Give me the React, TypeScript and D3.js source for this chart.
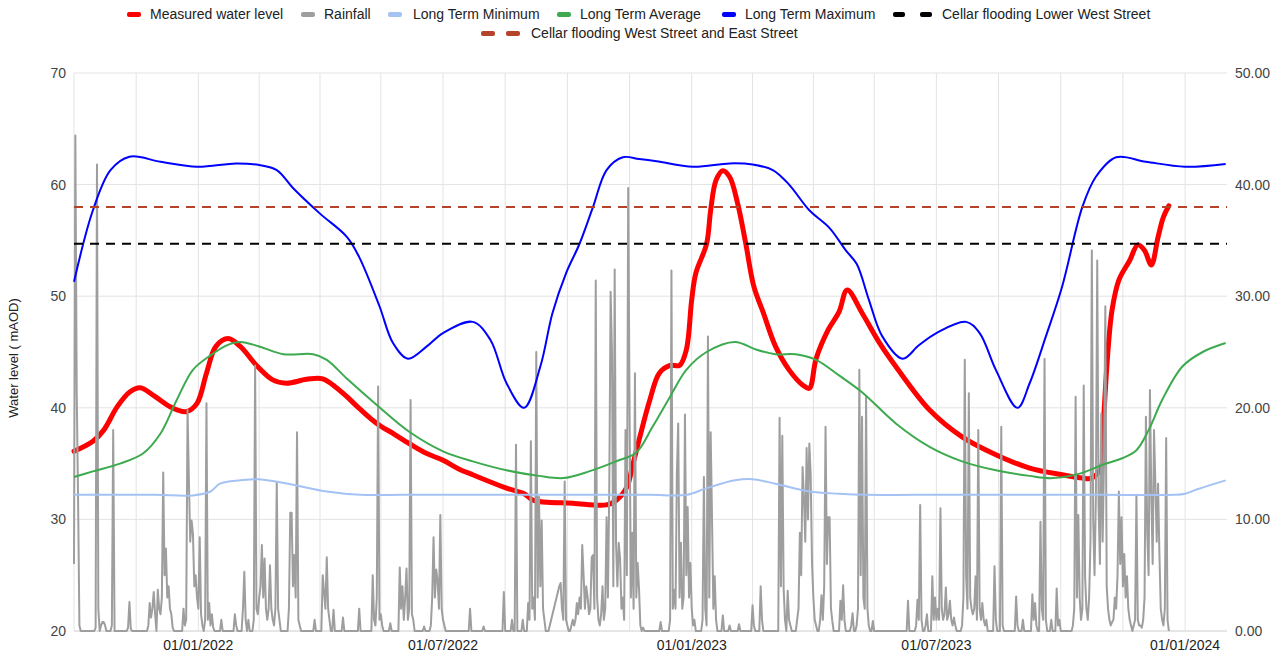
import React from 'react'
import * as d3 from 'd3'

// ---- data ----

// Measured water level (mAOD)
const levelDates = [
  '2021-10-01', '2021-10-15', '2021-10-23', '2021-11-02', '2021-11-11', '2021-11-19', '2021-11-29',
  '2021-12-11', '2021-12-23', '2021-12-31', '2022-01-07', '2022-01-14', '2022-01-23', '2022-02-01',
  '2022-02-13', '2022-02-25', '2022-03-07', '2022-03-22', '2022-04-03', '2022-04-18', '2022-04-30',
  '2022-05-13', '2022-05-25', '2022-06-06', '2022-06-19', '2022-07-01', '2022-07-13', '2022-07-23',
  '2022-08-17', '2022-08-30', '2022-09-06', '2022-10-05', '2022-10-30', '2022-11-06', '2022-11-14',
  '2022-11-18', '2022-11-23', '2022-12-01', '2022-12-08', '2022-12-16', '2022-12-23', '2022-12-28',
  '2023-01-01', '2023-01-04', '2023-01-12', '2023-01-15', '2023-01-19', '2023-01-24', '2023-01-29',
  '2023-02-04', '2023-02-10', '2023-02-16', '2023-02-23', '2023-03-04', '2023-03-14', '2023-03-24',
  '2023-03-29', '2023-04-03', '2023-04-12', '2023-04-20', '2023-04-26', '2023-05-07', '2023-05-20',
  '2023-06-01', '2023-06-26', '2023-07-20', '2023-08-14', '2023-09-08', '2023-10-02', '2023-10-17',
  '2023-10-24', '2023-10-31', '2023-11-02', '2023-11-05', '2023-11-08', '2023-11-13', '2023-11-21',
  '2023-11-27', '2023-12-02', '2023-12-07', '2023-12-12', '2023-12-16', '2023-12-20'
]
const levelValues = [
  36.1, 37.0, 38.0, 40.1, 41.4, 41.8, 41.1,
  40.1, 39.65, 40.4, 43.1, 45.5, 46.2, 45.5,
  43.8, 42.5, 42.2, 42.55, 42.6, 41.3, 39.95,
  38.6, 37.7, 36.8, 35.9, 35.3, 34.5, 34.0,
  32.8, 32.3, 31.7, 31.45, 31.3, 31.7, 32.9,
  34.7, 37.1, 40.7, 43.1, 43.8, 43.8, 45.2,
  49.7, 52.05, 54.7, 57.7, 60.4, 61.25, 60.7,
  58.3, 54.7, 50.85, 48.5, 45.5, 43.4, 42.05,
  41.75, 44.4, 47.0, 48.6, 50.55, 48.5, 45.8,
  43.7, 39.8, 37.4, 35.8, 34.6, 34.0, 33.7,
  33.7, 34.7, 39.5, 45.2, 48.8, 51.45, 53.2,
  54.6, 54.1, 52.8, 55.3, 57.1, 58.1
]

// Long term minimum
const minDates = [
  '2021-10-01', '2021-11-01', '2021-12-01', '2021-12-28', '2022-01-10', '2022-01-17', '2022-02-01',
  '2022-02-15', '2022-03-12', '2022-04-06', '2022-05-01', '2022-06-01', '2022-07-15', '2022-09-01',
  '2022-10-15', '2022-12-01', '2022-12-28', '2023-01-12', '2023-02-02', '2023-02-15', '2023-03-04',
  '2023-03-29', '2023-04-20', '2023-05-10', '2023-06-15', '2023-08-01', '2023-09-15', '2023-11-01',
  '2023-12-24', '2024-01-01', '2024-01-10', '2024-01-31'
]
const minValues = [
  32.2, 32.2, 32.2, 32.15, 32.5, 33.2, 33.5,
  33.6, 33.1, 32.5, 32.2, 32.2, 32.2, 32.2,
  32.2, 32.2, 32.2, 32.8, 33.5, 33.6, 33.2,
  32.5, 32.3, 32.2, 32.2, 32.2, 32.2, 32.2,
  32.2, 32.3, 32.7, 33.5
]

// Long term average
const avgDates = [
  '2021-10-01', '2021-10-15', '2021-11-04', '2021-11-21', '2021-12-04', '2021-12-16', '2021-12-28',
  '2022-01-10', '2022-01-22', '2022-02-01', '2022-02-15', '2022-03-05', '2022-03-27', '2022-04-06',
  '2022-04-21', '2022-05-13', '2022-06-06', '2022-07-01', '2022-07-23', '2022-08-17', '2022-09-10',
  '2022-09-28', '2022-10-17', '2022-11-06', '2022-11-21', '2022-12-03', '2022-12-16', '2022-12-28',
  '2023-01-12', '2023-02-02', '2023-02-18', '2023-03-04', '2023-03-19', '2023-04-03', '2023-04-20',
  '2023-05-07', '2023-06-01', '2023-06-26', '2023-07-20', '2023-08-14', '2023-09-08', '2023-09-25',
  '2023-10-15', '2023-11-01', '2023-11-16', '2023-11-26', '2023-12-05', '2023-12-15', '2023-12-30',
  '2024-01-14', '2024-01-31'
]
const avgValues = [
  33.8, 34.3, 35.0, 35.9, 37.7, 40.7, 43.4,
  44.7, 45.6, 45.9, 45.5, 44.8, 44.8, 44.3,
  42.6, 40.25, 37.85, 36.1, 35.2, 34.4, 33.9,
  33.7, 34.3, 35.2, 36.0, 38.3, 41.0, 43.4,
  45.0, 45.9, 45.2, 44.8, 44.8, 44.3, 42.9,
  41.4, 38.6, 36.5, 35.2, 34.4, 33.9, 33.7,
  34.1, 34.9, 35.5, 36.2, 38.0, 40.7, 43.7,
  45.0, 45.8
]

// Long term maximum
const maxDates = [
  '2021-10-01', '2021-10-15', '2021-10-28', '2021-11-11', '2021-12-04', '2021-12-31', '2022-01-29',
  '2022-02-15', '2022-02-28', '2022-03-12', '2022-04-01', '2022-04-21', '2022-04-30', '2022-05-15',
  '2022-05-25', '2022-06-05', '2022-06-19', '2022-07-01', '2022-07-23', '2022-08-05', '2022-08-17',
  '2022-08-30', '2022-09-11', '2022-09-20', '2022-09-30', '2022-10-10', '2022-10-20', '2022-10-30',
  '2022-11-11', '2022-11-23', '2022-12-06', '2023-01-02', '2023-01-29', '2023-02-15', '2023-03-02',
  '2023-03-14', '2023-03-29', '2023-04-13', '2023-04-25', '2023-05-03', '2023-05-12', '2023-05-22',
  '2023-06-06', '2023-06-18', '2023-07-01', '2023-07-23', '2023-08-02', '2023-08-14', '2023-08-30',
  '2023-09-08', '2023-09-20', '2023-10-02', '2023-10-17', '2023-10-27', '2023-11-11', '2023-12-03',
  '2024-01-01', '2024-01-31'
]
const maxValues = [
  51.3, 57.7, 61.3, 62.5, 62.05, 61.6, 61.9,
  61.75, 61.3, 59.7, 57.4, 55.3, 53.5, 49.1,
  45.8, 44.4, 45.5, 46.7, 47.7, 46.1, 42.2,
  40.0, 43.7, 48.5, 52.05, 54.7, 58.0, 61.3,
  62.45, 62.3, 62.1, 61.6, 61.9, 61.8, 61.3,
  60.0, 57.7, 56.1, 54.1, 52.9, 49.7, 46.4,
  44.4, 45.6, 46.7, 47.7, 46.7, 43.4, 40.0,
  42.2, 46.4, 50.85, 58.0, 60.7, 62.45, 62.05,
  61.6, 61.85
]

// cellar flooding thresholds (mAOD)
const floodLowerWest = 54.7
const floodWestEast = 58.0

// daily rainfall (mm), one value per day from rainStart
const rainStart = '2021-10-01'
const rainfall = [
  // Oct 2021
  6, 44.4, 21.6, 12, 0.5, 0, 0, 0, 0, 0, 0, 0, 0, 0, 0, 0, 0.3, 41.8, 2, 0, 0.5, 0.8, 0.8, 0.5, 0, 0, 0, 0, 0.5, 18, 0,
  // Nov 2021
  0, 0, 0, 0, 0, 0, 0, 0, 0, 0.3, 2.6, 0.2, 0, 0, 0, 0, 0, 0, 0, 0, 0, 0, 0, 0, 0.5, 2.5, 1.2, 2, 3.5, 1.5,
  // Dec 2021
  0, 3.7, 2, 1.5, 3, 14.2, 5, 7.4, 3, 4, 2, 1.5, 0.3, 0, 0, 0, 0, 0, 0, 0, 2, 0.5, 1, 19.8, 13.5, 8, 9.9, 8.7, 4, 5, 3,
  // Jan 2022
  2, 8.4, 1.5, 0.5, 0, 1, 20.4, 1, 2.5, 0.5, 1.5, 0.3, 0, 0, 0, 0, 0, 1, 0, 0, 0, 0, 0, 0, 0, 0, 0, 1.5, 0.5, 0, 0,
  // Feb 2022
  0, 0, 2, 5.3, 1, 0, 1, 0, 0, 0, 1, 23.8, 2, 1.5, 3, 4, 7.7, 3, 6.5, 2, 1, 2, 5.9, 2, 1, 0.5, 2, 13.3,
  // Mar 2022
  2, 1, 0, 0, 0, 0, 0, 0, 2, 10.6, 10.6, 4, 6.8, 3, 17.8, 1, 0.5, 0, 0, 0, 0, 0, 0, 0, 0, 0, 0, 1, 0, 0, 0,
  // Apr 2022
  0, 0, 5, 3.5, 2, 6.6, 2, 1, 0, 0, 1.9, 0, 0, 0, 0, 0, 0, 1.2, 0, 0, 0, 0, 0, 0, 0, 0, 0, 0, 0, 2,
  // May 2022
  0, 0, 0, 0, 0, 0, 0, 0, 0, 5, 1, 0.5, 3, 21.9, 1, 1.5, 0.5, 0, 0, 0, 0, 0, 0.7, 0, 0, 0, 0, 0, 0, 5.7, 2,
  // Jun 2022
  4, 1, 3, 5.6, 1, 2, 20.7, 1.5, 1, 0, 0, 0, 0, 0, 0, 0, 0.4, 0, 0, 0, 0, 0.5, 3, 8.4, 3, 5.5, 4.5, 2, 10.4, 2,
  // Jul 2022
  1, 0.5, 0, 0, 0, 0, 0, 0, 0, 0, 0, 0, 0, 0, 0, 0, 0, 0, 0, 0, 2, 0, 0, 0, 0, 0, 0, 0, 0, 0, 0.4,
  // Aug 2022
  0, 0, 0, 0, 0, 0, 0, 0, 0, 0, 0, 0, 0, 0, 3.5, 0, 0, 0, 0, 0, 1, 0, 0, 16.7, 0, 0, 0, 0, 1, 0, 0,
  // Sep 2022
  0, 2.5, 1, 17, 2, 3, 1, 25, 3, 12, 4, 9.9, 2, 1, 0, 0, 0, 0.5, 1, 1.5, 2, 2.5, 3, 3.5, 4, 4.3, 2, 1, 13.4, 1,
  // Oct 2022
  0.5, 0, 0, 0.5, 1, 0.5, 1, 2.5, 1.5, 3, 2, 7.7, 5, 2, 4, 3, 1.5, 2, 6.6, 6.8, 2, 31.4, 3, 1, 0.5, 1.5, 4, 1, 2, 10.2, 3,
  // Nov 2022
  12.8, 30.4, 25, 4, 32.4, 7.9, 4, 7.9, 6.5, 2, 3, 1, 18, 5, 39.7, 20, 3, 8.8, 2, 23.1, 3, 6.1, 3.8, 0.5, 0, 0.3, 0, 0, 0, 0,
  // Dec 2022
  0, 0, 0, 0, 0, 0, 0, 0, 0.8, 0, 0, 0, 0, 0, 0, 1, 32.3, 2, 3.7, 2, 14.1, 18.6, 3, 7.9, 2, 3, 19.4, 5, 11.1, 3, 6.1,
  // Jan 2023
  2, 0.5, 1, 0, 0, 0, 0, 0, 1, 13.8, 2, 0.5, 26.4, 3, 17.8, 10.2, 2, 4.9, 1, 0, 0, 0, 0, 1.4, 0, 0, 0, 0, 0.5, 0, 0,
  // Feb 2023
  0, 0, 0, 0, 0.6, 0, 0, 0, 0, 0, 0, 0, 0, 0, 2.3, 0.5, 0, 0, 0, 0, 4, 1, 0, 0, 0, 0, 0, 0,
  // Mar 2023
  0, 0, 0, 0, 0, 0, 19.1, 4, 17.5, 3.8, 1, 0, 3.6, 1, 0.5, 0, 0, 0, 0, 1, 2, 8.8, 5, 14.7, 12, 8, 16.4, 10, 16.8, 14, 6,
  // Apr 2023
  3, 1, 0.5, 0, 0, 1, 3.2, 1, 4, 18.3, 6, 10.2, 10.2, 2, 0.9, 0, 0, 0, 0, 0, 2.7, 1, 4.1, 1, 0, 0, 0, 0, 0.5, 1.6,
  // May 2023
  0, 0, 0.5, 2, 23.4, 5, 19.2, 3, 2, 21, 2, 0.5, 0, 0, 0.9, 0, 0, 0, 0, 0, 0, 0, 0, 0, 0, 0, 0, 0, 0, 0, 0,
  // Jun 2023
  0, 0, 0, 0, 0, 0, 0, 0, 0, 2.7, 0, 0, 0, 0, 0, 0.5, 2.8, 1, 11.3, 1, 0, 0, 0.5, 1.5, 0, 0, 0, 4.9, 1, 3,
  // Jul 2023
  1, 2, 1, 11, 2, 1, 1.5, 3.9, 1, 1.5, 2.7, 1, 0.5, 1.2, 0.5, 0, 0, 0, 0, 0.5, 3, 24.3, 4.9, 2, 21.3, 3, 2, 1.5, 2, 4.9, 1,
  // Aug 2023
  18, 2, 1, 2.5, 1, 0.5, 1, 0, 0, 0, 0, 0, 5.8, 1, 0, 0, 0, 18.3, 0.5, 0, 0, 0, 0, 0, 0, 0, 0, 0, 3.1, 0.5, 0,
  // Sep 2023
  0, 0, 1, 0, 0, 0, 0, 0, 0, 3.3, 1, 2.5, 0.5, 0, 0, 9.8, 2, 1, 24.4, 1, 0, 0, 0, 1, 0, 0, 0, 3.8, 0.5, 1,
  // Oct 2023
  0, 0, 0, 0, 0, 0, 0, 0, 0, 0.5, 2, 21, 3, 10.4, 3, 1, 2, 22, 4.9, 2, 1, 3, 8, 34.1, 10, 5, 12, 33.2, 11.2, 6, 19.5,
  // Nov 2023
  8, 15.2, 29.1, 4, 2, 1, 0.5, 0.8, 1, 3, 2, 5, 12.5, 6, 10.2, 4, 6.9, 3, 4.9, 2, 1, 0.5, 0, 0.5, 1, 12.2, 1, 0.5, 0.5, 0.3,
  // Dec 2023
  1, 3, 19.2, 8.8, 5, 21.6, 12.3, 6, 18, 13.2, 8, 13.2, 6.9, 2, 1, 0.5, 2, 17.3, 1, 0
]

// axis ticks
const leftTicks = [20, 30, 40, 50, 60, 70]
const rightTicks = [0, 10, 20, 30, 40, 50]
const labelDates = ['2022-01-01', '2022-07-01', '2023-01-01', '2023-07-01', '2024-01-01']
const gridDates = [
  '2021-10-01', '2021-11-16', '2022-01-01', '2022-02-15', '2022-04-01', '2022-05-16', '2022-07-01',
  '2022-08-16', '2022-10-01', '2022-11-16', '2023-01-01', '2023-02-15', '2023-04-01', '2023-05-16',
  '2023-07-01', '2023-08-16', '2023-10-01', '2023-11-16', '2024-01-01'
]

const parse = d3.timeParse('%Y-%m-%d')
const fmt = d3.timeFormat('%d/%m/%Y')

const FONT = '"Liberation Sans", Arial, sans-serif'

const App = () => {
  const width = 1279
  const height = 655
  const plot = { left: 74, right: 1227, top: 73, bottom: 631 }

  const x = d3
    .scaleTime()
    .domain([parse('2021-10-01'), parse('2024-02-01')])
    .range([plot.left, plot.right])
  const yL = d3.scaleLinear().domain([20, 70]).range([plot.bottom, plot.top])
  const yR = d3.scaleLinear().domain([0, 50]).range([plot.bottom, plot.top])

  // smooth curves like the original "function" curve type
  const smooth = d3
    .line<[Date, number]>()
    .x((d) => x(d[0]))
    .y((d) => yL(d[1]))
    .curve(d3.curveCatmullRom.alpha(0.5))

  const zip = (dates, values) => dates.map((d, i) => [parse(d), values[i]] as [Date, number])

  const start = parse(rainStart)
  const rainPts = rainfall.map((v, i) => [d3.timeDay.offset(start, i), v] as [Date, number])
  const rainLine = d3
    .line<[Date, number]>()
    .x((d) => x(d[0]))
    .y((d) => yR(d[1]))

  const series = [
    { name: 'Long Term Minimum', color: '#a4c2f4', d: smooth(zip(minDates, minValues)), w: 2 },
    { name: 'Long Term Average', color: '#3daa4f', d: smooth(zip(avgDates, avgValues)), w: 2 },
    { name: 'Long Term Maximum', color: '#0000ff', d: smooth(zip(maxDates, maxValues)), w: 2 }
  ]

  const legend1 = [
    { label: 'Measured water level', color: '#ff0000', sx: 127, tx: 150 },
    { label: 'Rainfall', color: '#9e9e9e', sx: 301, tx: 324 },
    { label: 'Long Term Minimum', color: '#a4c2f4', sx: 388, tx: 413 },
    { label: 'Long Term Average', color: '#3daa4f', sx: 557, tx: 580 },
    { label: 'Long Term Maximum', color: '#0000ff', sx: 722, tx: 745 }
  ]

  return (
    <svg
      width={width}
      height={height}
      style={{ position: 'absolute', left: 0, top: 0, background: '#fff' }}
      fontFamily={FONT}
    >
      {/* grid */}
      <g>
        {leftTicks.map((t) => (
          <line key={t} x1={plot.left} x2={plot.right} y1={yL(t)} y2={yL(t)} stroke={t === 20 ? '#cccccc' : '#e3e3e3'} strokeWidth={1} />
        ))}
        {gridDates.map((d) => (
          <line key={d} x1={x(parse(d))} x2={x(parse(d))} y1={plot.top} y2={plot.bottom} stroke="#e3e3e3" strokeWidth={1} />
        ))}
      </g>

      {/* measured level */}
      <path d={smooth(zip(levelDates, levelValues))} fill="none" stroke="#ff0000" strokeWidth={5} strokeLinejoin="round" strokeLinecap="round" />

      {/* rainfall */}
      <path d={rainLine(rainPts)} fill="none" stroke="#9e9e9e" strokeWidth={2} strokeLinejoin="round" />

      {series.map((s) => (
        <path key={s.name} d={s.d} fill="none" stroke={s.color} strokeWidth={s.w} />
      ))}

      {/* thresholds */}
      <line x1={plot.left} x2={plot.right} y1={yL(floodLowerWest)} y2={yL(floodLowerWest)} stroke="#000000" strokeWidth={2} strokeDasharray="9,7" />
      <line x1={plot.left} x2={plot.right} y1={yL(floodWestEast)} y2={yL(floodWestEast)} stroke="#b5432a" strokeWidth={2} strokeDasharray="9,7" />

      {/* left axis */}
      {leftTicks.map((t) => (
        <text key={t} x={66} y={yL(t) + 5} textAnchor="end" fontSize={14} fill="#444">
          {t}
        </text>
      ))}
      {/* right axis */}
      {rightTicks.map((t) => (
        <text key={t} x={1235} y={yR(t) + 5} textAnchor="start" fontSize={14} fill="#444">
          {t.toFixed(2)}
        </text>
      ))}
      {/* x axis */}
      {labelDates.map((d) => (
        <text key={d} x={x(parse(d))} y={650} textAnchor="middle" fontSize={14} fill="#222">
          {fmt(parse(d))}
        </text>
      ))}

      <text transform="translate(18,358) rotate(-90)" textAnchor="middle" fontSize={13} fill="#222">
        Water level ( mAOD)
      </text>

      {/* legend */}
      <g fontSize={14} fill="#222">
        {legend1.map((l) => (
          <g key={l.label}>
            <rect x={l.sx} y={12} width={14} height={5} rx={2} fill={l.color} />
            <text x={l.tx} y={19}>{l.label}</text>
          </g>
        ))}
        <rect x={893} y={12} width={12} height={5} rx={2} fill="#000" />
        <rect x={920} y={12} width={12} height={5} rx={2} fill="#000" />
        <text x={942} y={19}>Cellar flooding Lower West Street</text>
        <rect x={481} y={31} width={14} height={5} rx={2} fill="#b5432a" />
        <rect x={506} y={31} width={14} height={5} rx={2} fill="#b5432a" />
        <text x={531} y={38}>Cellar flooding West Street and East Street</text>
      </g>
    </svg>
  )
}

export default App
